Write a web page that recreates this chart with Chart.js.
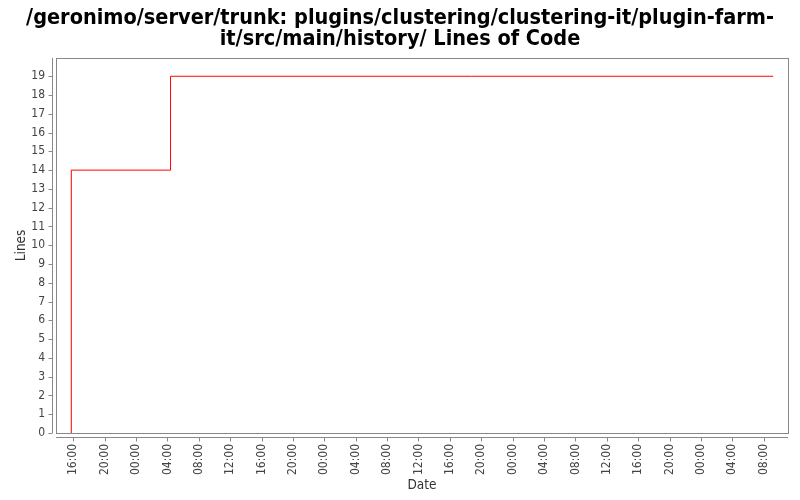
<!DOCTYPE html>
<html>
<head>
<meta charset="utf-8">
<script src="https://cdn.jsdelivr.net/npm/chart.js@4.4.0/dist/chart.umd.min.js"></script>
<style>
  html, body { margin: 0; padding: 0; background: #fff; }
  #wrap { width: 800px; height: 500px; }
</style>
</head>
<body>
<div id="wrap"><canvas id="chart"></canvas></div>
<script>
// données (heures depuis le jour 0 à 00:00)
var pointHours = [15.75, 15.75, 28.4, 105.2];
var pointLines = [0, 14, 19, 19];

var tickHours = [16, 20, 24, 28, 32, 36, 40, 44, 48, 52, 56, 60, 64, 68, 72, 76, 80, 84, 88, 92, 96, 100, 104];
var tickLabels = ["16:00", "20:00", "00:00", "04:00", "08:00", "12:00", "16:00", "20:00", "00:00", "04:00", "08:00", "12:00",
  "16:00", "20:00", "00:00", "04:00", "08:00", "12:00", "16:00", "20:00", "00:00", "04:00", "08:00"];

var titleLines = ["/geronimo/server/trunk: plugins/clustering/clustering-it/plugin-farm-", "it/src/main/history/ Lines of Code"];

var axisColor = "#888888";
var condensed = "'DejaVu Sans Condensed', 'DejaVu Sans', sans-serif";
var tickFont = { family: condensed, size: 12 };

// axes décalés comme dans le graphique d'origine
var frame = {
  id: "frame",
  afterDraw(chart) {
    var ctx = chart.ctx, a = chart.chartArea;
    var xs = chart.scales.x, ys = chart.scales.y;
    ctx.save();
    ctx.strokeStyle = axisColor;
    ctx.lineWidth = 1;
    ctx.strokeRect(Math.round(a.left) + 0.5, Math.round(a.top) + 0.5, Math.round(a.right - a.left), Math.round(a.bottom - a.top));
    ctx.beginPath();
    var lx = Math.round(a.left) - 3.5;
    ctx.moveTo(lx, a.top);
    ctx.lineTo(lx, a.bottom);
    ys.ticks.forEach(t => {
      var y = Math.round(ys.getPixelForValue(t.value)) + 0.5;
      ctx.moveTo(lx - 4, y);
      ctx.lineTo(lx, y);
    });
    var by = Math.round(a.bottom) + 4.5;
    ctx.moveTo(a.left, by);
    ctx.lineTo(a.right, by);
    xs.ticks.forEach(t => {
      var x = Math.round(xs.getPixelForValue(t.value)) + 0.5;
      ctx.moveTo(x, by);
      ctx.lineTo(x, by + 4);
    });
    ctx.stroke();
    ctx.restore();
  }
};

new Chart(document.getElementById("chart"), {
  type: "line",
  data: {
    datasets: [{
      data: pointHours.map((h, i) => ({ x: h, y: pointLines[i] })),
      borderColor: "#ff0000",
      borderWidth: 1,
      pointRadius: 0,
      stepped: true,
      fill: false
    }]
  },
  options: {
    responsive: true,
    maintainAspectRatio: false,
    animation: false,
    layout: { padding: { left: 0, right: 0, top: 7, bottom: 0 } },
    plugins: {
      legend: { display: false },
      tooltip: { enabled: false },
      title: {
        display: true,
        text: titleLines,
        color: "#000",
        font: { family: "'DejaVu Sans Condensed', 'Liberation Sans', sans-serif", size: 21.5, weight: "bold", lineHeight: 1.02 },
        padding: { top: 0, bottom: 7 }
      }
    },
    scales: {
      x: {
        type: "linear",
        min: 13.8,
        max: 107.1,
        afterBuildTicks: axis => { axis.ticks = tickHours.map(v => ({ value: v })); },
        afterFit: s => { s.height = 67; },
        ticks: {
          autoSkip: false,
          minRotation: 90,
          maxRotation: 90,
          padding: 3,
          color: "#444",
          font: tickFont,
          callback: (v, i) => tickLabels[i]
        },
        grid: { drawOnChartArea: false, drawTicks: true, tickLength: 8, color: "transparent" },
        border: { display: false },
        title: { display: true, text: "Date", color: "#333", font: { family: condensed, size: 13.5 }, padding: { top: 0, bottom: 6 } }
      },
      y: {
        type: "linear",
        min: 0,
        max: 19.98,
        afterBuildTicks: axis => { axis.ticks = axis.ticks.filter(t => Number.isInteger(t.value)); },
        afterFit: s => { s.width = 56; },
        ticks: { stepSize: 1, padding: 3, color: "#444", font: tickFont },
        grid: { drawOnChartArea: false, drawTicks: true, tickLength: 8, color: "transparent" },
        border: { display: false },
        title: { display: true, text: "Lines", color: "#333", font: { family: condensed, size: 13.5 }, padding: { top: 13, bottom: 4 } }
      },
      // marge à droite, sans rien d'affiché
      yRight: {
        type: "linear",
        position: "right",
        min: 0,
        max: 19.98,
        afterFit: s => { s.width = 12; },
        ticks: { display: false },
        grid: { display: false },
        border: { display: false }
      }
    }
  },
  plugins: [frame]
});
</script>
</body>
</html>
